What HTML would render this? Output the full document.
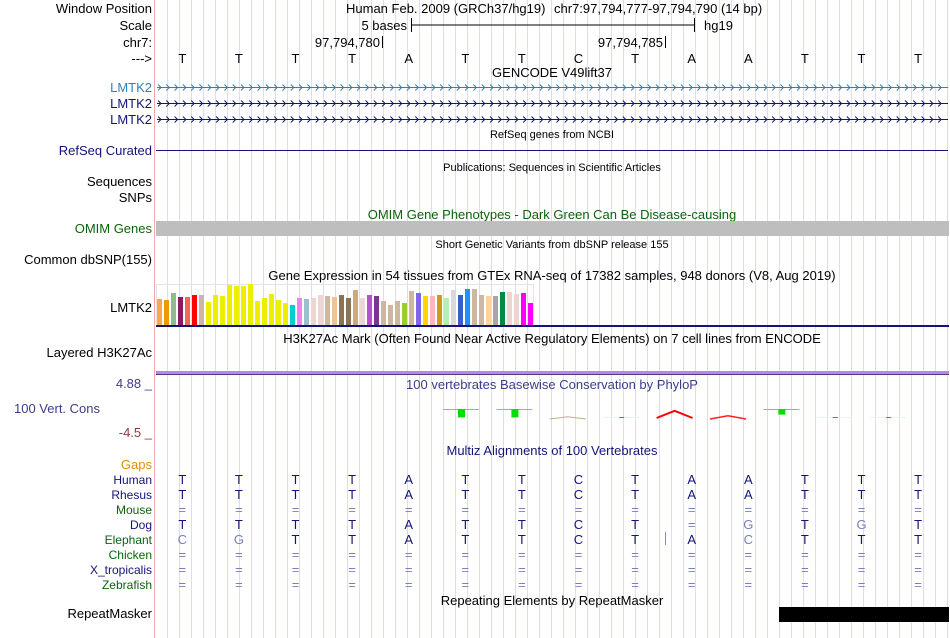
<!DOCTYPE html>
<html><head><meta charset="utf-8"><style>
html,body{margin:0;padding:0;background:#fff;}
svg{display:block;font-family:"Liberation Sans",sans-serif;}
</style></head><body>
<svg id="c" width="950" height="638" viewBox="0 0 950 638">
<g id="grid"></g>
<line x1="154.5" y1="0" x2="154.5" y2="638" stroke="#f4a8a8" stroke-width="1"/>
<g font-size="13" text-anchor="end">
<text x="152" y="13" fill="#000">Window Position</text>
<text x="152" y="30" fill="#000">Scale</text>
<text x="152" y="47" fill="#000">chr7:</text>
<text x="152" y="63" fill="#000">---&gt;</text>
<text x="152" y="92" fill="#2f7fb8">LMTK2</text>
<text x="152" y="108" fill="#141478">LMTK2</text>
<text x="152" y="124" fill="#141478">LMTK2</text>
<text x="152" y="155" fill="#141478">RefSeq Curated</text>
<text x="152" y="186" fill="#000">Sequences</text>
<text x="152" y="202" fill="#000">SNPs</text>
<text x="152" y="233" fill="#0a640a">OMIM Genes</text>
<text x="152" y="264" fill="#000">Common dbSNP(155)</text>
<text x="152" y="312" fill="#000">LMTK2</text>
<text x="152" y="357" fill="#000">Layered H3K27Ac</text>
<text x="152" y="388" fill="#3c3c8c">4.88 _</text>
<text x="100" y="413" fill="#3c3c8c">100 Vert. Cons</text>
<text x="152" y="437" fill="#8c3c3c">-4.5 _</text>
<text x="152" y="469" fill="#e09000">Gaps</text>
<text x="152" y="618" fill="#000">RepeatMasker</text>
</g>
<g id="species"></g>
<g font-size="13" fill="#000">
<text x="346" y="13">Human Feb. 2009 (GRCh37/hg19)</text>
<text x="554" y="13">chr7:97,794,777-97,794,790 (14 bp)</text>
<text x="407" y="30" text-anchor="end">5 bases</text>
<line x1="411" y1="25" x2="694" y2="25" stroke="#000"/>
<line x1="411.5" y1="18" x2="411.5" y2="32" stroke="#000"/>
<line x1="694.5" y1="18" x2="694.5" y2="32" stroke="#000"/>
<text x="704" y="30">hg19</text>
<text x="380" y="47" text-anchor="end">97,794,780</text>
<line x1="382.5" y1="36" x2="382.5" y2="48" stroke="#000"/>
<text x="663" y="47" text-anchor="end">97,794,785</text>
<line x1="665.5" y1="36" x2="665.5" y2="48" stroke="#000"/>
</g>
<g font-size="11" fill="#000" text-anchor="middle">
<text x="552" y="77" font-size="13">GENCODE V49lift37</text>
<text x="552" y="138">RefSeq genes from NCBI</text>
<text x="552" y="171">Publications: Sequences in Scientific Articles</text>
<text x="552" y="219" font-size="13" fill="#0a640a">OMIM Gene Phenotypes - Dark Green Can Be Disease-causing</text>
<text x="552" y="248">Short Genetic Variants from dbSNP release 155</text>
<text x="552" y="280" font-size="13">Gene Expression in 54 tissues from GTEx RNA-seq of 17382 samples, 948 donors (V8, Aug 2019)</text>
<text x="552" y="343" font-size="13">H3K27Ac Mark (Often Found Near Active Regulatory Elements) on 7 cell lines from ENCODE</text>
<text x="552" y="389" font-size="13" fill="#3c3c8c">100 vertebrates Basewise Conservation by PhyloP</text>
<text x="552" y="455" font-size="13" fill="#141478">Multiz Alignments of 100 Vertebrates</text>
<text x="552" y="605" font-size="13">Repeating Elements by RepeatMasker</text>
</g>
<line x1="156" y1="150.5" x2="948" y2="150.5" stroke="#141478"/>
<rect x="156" y="221" width="793" height="15" fill="#bebebe"/>
<rect x="156.5" y="284.5" width="377" height="41" fill="none" stroke="#e4e4e4"/>
<g id="gtex"></g>
<rect x="156" y="325" width="793" height="2" fill="#141478"/>
<rect x="156" y="371" width="793" height="3" fill="#c080f0"/>
<rect x="156" y="374" width="793" height="1" fill="#503c78"/>
<g id="phylop"></g>
<g id="genes"></g>
<g id="bases"></g>
<line x1="665.5" y1="532" x2="665.5" y2="545" stroke="#d08020"/>
<rect x="779" y="607" width="170" height="15" fill="#000"/>
</svg>
<script>
const NS="http://www.w3.org/2000/svg";
const refBases=["T","T","T","T","A","T","T","C","T","A","A","T","T","T"];
const gtexHeights=[26,25,32,28,28,30,30,23,30,29,40,39,39,41,24,27,31,25,22,20,27,26,27,30,29,28,30,27,35,27,30,29,24,20,24,22,34,32,29,29,30,27,35,30,36,36,30,29,29,33,33,31,32,22];
const gtexColors=["#FFA54F","#EE9A00","#8FBC8F","#8B1C62","#EE6A50","#FF0000","#CDB79E","#EEEE00","#EEEE00","#EEEE00","#EEEE00","#EEEE00","#EEEE00","#EEEE00","#EEEE00","#EEEE00","#EEEE00","#EEEE00","#EEEE00","#00CDCD","#EE82EE","#9AC0CD","#EED5D2","#EED5D2","#CDB79E","#EEC591","#8B7355","#8B7355","#CDAA7D","#EED5D2","#B452CD","#7A378B","#CDB79E","#CDB79E","#CDB79E","#9ACD32","#CDB79E","#7A67EE","#FFD700","#FFB6C1","#CD9B1D","#B4EEB4","#D9D9D9","#3A5FCD","#1E90FF","#CDB79E","#CDB79E","#FFD39B","#A6A6A6","#008B45","#EED5D2","#EED5D2","#FF00FF","#FF00FF"];
const phylopValues=[0,0,0,0,0,1.2,1.2,-0.1,0.1,-1.2,-0.4,0.8,0.05,0.05];
const speciesNames=["Human","Rhesus","Mouse","Dog","Elephant","Chicken","X_tropicalis","Zebrafish"];
const speciesColors=["#141478","#141478","#0a640a","#141478","#0a640a","#0a640a","#141478","#0a640a"];
const alignments=["TTTTATTCTAATTT","TTTTATTCTAATTT","==============","TTTTATTCT=GTGT","CGTTATTCTACTTT","==============","==============","=============="];
const lowConf=[[],[],[],[10,12],[0,1,10],[],[],[]];

const baseX=i=>154+56.6*(i+0.5);
const phyloX=i=>194+53.4*i;
const gtexX=i=>157+7*i;
const gtexY=h=>325-h;

function el(tag,attrs,parent){const e=document.createElementNS(NS,tag);for(const k in attrs)e.setAttribute(k,attrs[k]);parent.appendChild(e);return e;}
const svg=document.getElementById('c');
const grid=document.getElementById('grid');
for(let x=167.5;x<949;x+=12){
 const l=el('line',{x1:x,y1:0,x2:x,y2:638,stroke:'#dcdcf4'},grid);
 
 
}
// reference bases
const bg=document.getElementById('bases');
refBases.forEach((b,i)=>{
 const t=el('text',{x:baseX(i),y:63,'font-size':13,'text-anchor':'middle',fill:'#000'},bg);
 t.textContent=b;
 
 
});
// gene lines with chevrons
const gg=document.getElementById('genes');
[[87,'#2f7fb8'],[103,'#141478'],[119,'#141478']].forEach(([y,c],k)=>{
 const l=el('line',{x1:157,y1:y+.5,x2:948,y2:y+.5,stroke:c},gg);
 
 
 let d='';
 for(let x=158;x<946;x+=8.3){d+=`M${x.toFixed(1)} ${y-2.5}L${(x+3).toFixed(1)} ${y+.5}L${x.toFixed(1)} ${y+3.5}`;}
 const p=el('path',{d:d,stroke:c,fill:'none','stroke-width':1},gg);
 
 
});
// GTEx bars
const gt=document.getElementById('gtex');
gtexHeights.forEach((h,i)=>{
 const r=el('rect',{x:gtexX(i),y:gtexY(h),width:5,height:h,fill:gtexColors[i]},gt);
 
 
});
// PhyloP
const pg=document.getElementById('phylop');
const phyloBase=409;
phylopValues.forEach((v,i)=>{
 const cx=phyloX(i);
 if(v===0)return;
 if(v>0.5){
  el('line',{x1:cx-18,y1:phyloBase+.5,x2:cx+18,y2:phyloBase+.5,stroke:'#40f040'},pg);
  const r=el('rect',{x:cx-3,y:phyloBase,width:7,height:v*7,fill:'#00e000'},pg);
  
  
 }else if(v>0.3){
  el('line',{x1:cx-18,y1:412.5,x2:cx+18,y2:412.5,stroke:'#40f040'},pg);
  const r=el('rect',{x:cx-3,y:412,width:6,height:v*7,fill:'#00e000'},pg);
  
  
 }else if(v<-0.5){
  const p=el('path',{d:`M${cx-18} 418L${cx} ${418+v*6}L${cx+18} 418`,stroke:'#ff0000','stroke-width':2,fill:'none'},pg);
  
  
 }else if(v<0){
  const p=el('path',{d:`M${cx-18} 419L${cx} ${417+v*3}L${cx+18} 419`,stroke:i===7?'#c0b080':'#ff2020','stroke-width':i===7?1:1.5,fill:'none'},pg);
  
  
 }else{
  el('line',{x1:cx-18,y1:417.5,x2:cx+18,y2:417.5,stroke:'#e4f8e4'},pg);
  const r=el('rect',{x:cx-2,y:417,width:5,height:1,fill:'#20b020'},pg);
  
  
 }
});
// species alignment
const sg=document.getElementById('species');
speciesNames.forEach((n,k)=>{
 const y=484+15*k;
 const t=el('text',{x:152,y:y,'font-size':12,'text-anchor':'end',fill:speciesColors[k]},sg);
 t.textContent=n;
 
 
 alignments[k].split('').forEach((b,i)=>{
  const light=b==='='||lowConf[k].includes(i);
  const s=el('text',{x:baseX(i),y:y,'font-size':13,'text-anchor':'middle',fill:light?'#7880b8':'#141478'},sg);
  s.textContent=b;
  
  
 });
});
</script>
</body></html>
